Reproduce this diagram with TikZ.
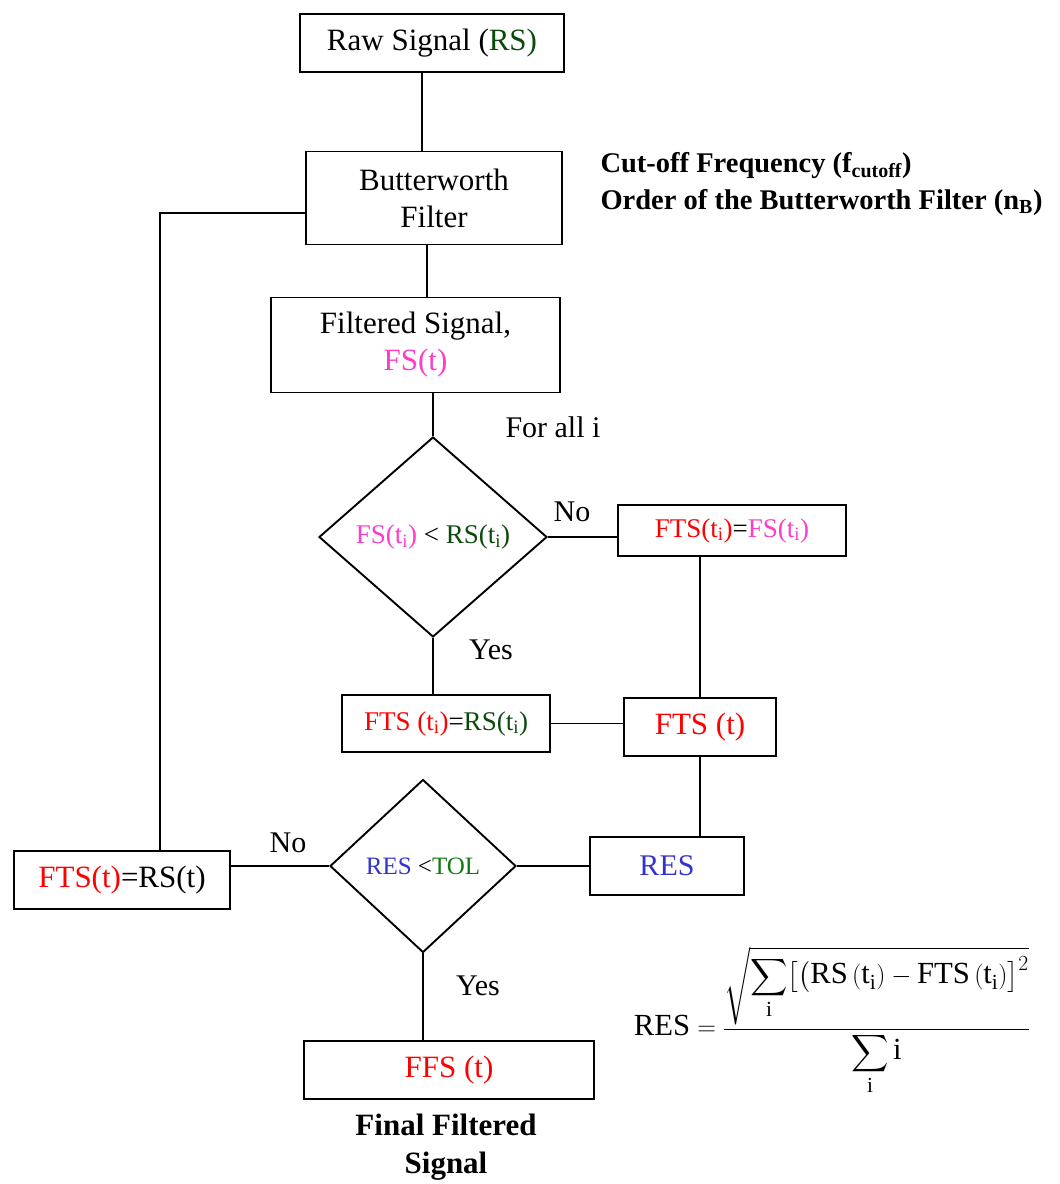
\documentclass[tikz,border=0pt]{standalone}
\usepackage{amsmath}
\usepackage{fontspec}
\setmainfont{Liberation Serif}
\usepackage{tikz}
\usetikzlibrary{positioning,shapes.geometric}
\definecolor{SigRed}{HTML}{FF0000}
\definecolor{SigPink}{HTML}{FF3CC8}
\definecolor{SigGreen}{HTML}{0B4A0B}
\definecolor{TolGreen}{HTML}{127A12}
\definecolor{ResBlue}{HTML}{3434CC}
\newcommand{\tsub}{t\textsubscript{i}}

\begin{document}
\begin{tikzpicture}[x=1pt,y=-1pt,
  box/.style={draw,line width=1.9pt,inner sep=2pt,align=center,font=\fontsize{31}{37}\selectfont},
  decision/.style={diamond,draw,line width=1.9pt,inner sep=0pt,font=\fontsize{27}{32}\selectfont},
  lbl/.style={font=\fontsize{30}{36}\selectfont},
  link/.style={line width=1.9pt}]
\useasboundingbox (0,0) rectangle (1060,1184);
\node[box,minimum width=264pt,minimum height=58pt] (raw) at (432,43) {Raw Signal (\textcolor{SigGreen}{RS)}};
\node[box,minimum width=256pt,minimum height=93pt] (bw) at (434,198) {Butterworth\\Filter};
\node[box,minimum width=289pt,minimum height=95pt] (fs) at (415.5,345) {Filtered Signal,\\\textcolor{SigPink}{FS(t)}};
\node[decision,minimum width=228pt,minimum height=200pt] (dia1) at (433,537) {\textcolor{SigPink}{FS(\tsub)} < \textcolor{SigGreen}{RS(\tsub)}};
\node[box,font=\fontsize{27}{32}\selectfont,minimum width=228pt,minimum height=51pt] (ftsfs) at (732,530.5) {\textcolor{SigRed}{FTS(\tsub)}=\textcolor{SigPink}{FS(\tsub)}};
\node[box,font=\fontsize{27}{32}\selectfont,minimum width=208pt,minimum height=57pt] (ftsrs) at (446,723.5) {\textcolor{SigRed}{FTS (\tsub)}=\textcolor{SigGreen}{RS(\tsub)}};
\node[box,minimum width=152pt,minimum height=58pt] (ftst) at (700,727) {\textcolor{SigRed}{FTS (t)}};
\node[box,font=\fontsize{30}{36}\selectfont,minimum width=154pt,minimum height=58pt] (res) at (667,866) {\textcolor{ResBlue}{RES}};
\node[decision,font=\fontsize{25}{30}\selectfont,minimum width=186pt,minimum height=173pt] (dia2) at (423,866) {\textcolor{ResBlue}{RES} <\textcolor{TolGreen}{TOL}};
\node[box,minimum width=216pt,minimum height=58pt] (back) at (122,880) {\textcolor{SigRed}{FTS(t)}=RS(t)};
\node[box,minimum width=290pt,minimum height=58pt] (ffs) at (449,1070) {\textcolor{SigRed}{FFS (t)}};

\node[anchor=west,align=left,font=\bfseries\fontsize{28.5}{37}\selectfont] (params) at (597,184) {Cut-off Frequency (f\textsubscript{cutoff})\\Order of the Butterworth Filter (n\textsubscript{B})};
\node[align=center,font=\bfseries\fontsize{31}{38}\selectfont] (final) at (446,1147) {Final Filtered\\Signal};
\node[lbl] (forall) at (553,427) {For all i};
\node[lbl] (no1) at (572,512) {No};
\node[lbl] (yes1) at (491,650) {Yes};
\node[lbl] (no2) at (288,843) {No};
\node[lbl] (yes2) at (478,986) {Yes};
\node[font=\fontsize{29.5}{35}\selectfont] (resdef) at (832,1021)
  {\scalebox{1.04}{$\text{RES}=\dfrac{\sqrt{\displaystyle\sum_{\text{i}}\bigl[\bigl(\text{RS}\,(\text{t}_{\text{i}})-\text{FTS}\,(\text{t}_{\text{i}})\bigr]^{2}}}{\displaystyle\sum_{\text{i}}\text{i}}$}};

\draw[link] ([xshift=-10pt]raw.south) -- ([xshift=-10pt]raw.south |- bw.north);
\draw[link] ([xshift=-7pt]bw.south) -- ([xshift=-7pt]bw.south |- fs.north);
\draw[link] (dia1.north) -- (dia1.north |- fs.south);
\draw[link] (dia1.east) -- (dia1.east -| ftsfs.west);
\draw[link] (ftst.north) -- (ftst.north |- ftsfs.south);
\draw[link] (dia1.south) -- (dia1.south |- ftsrs.north);
\draw[link] (ftsrs.east) -- (ftsrs.east -| ftst.west);
\draw[link] (ftst.south) -- (ftst.south |- res.north);
\draw[link] (res.west) -- (dia2.east);
\draw[link] (dia2.west) -- (dia2.west -| back.east);
\draw[link] ([xshift=38pt]back.north) |- ([yshift=-15pt]bw.west);
\draw[link] (dia2.south) -- (dia2.south |- ffs.north);
\end{tikzpicture}
\end{document}
